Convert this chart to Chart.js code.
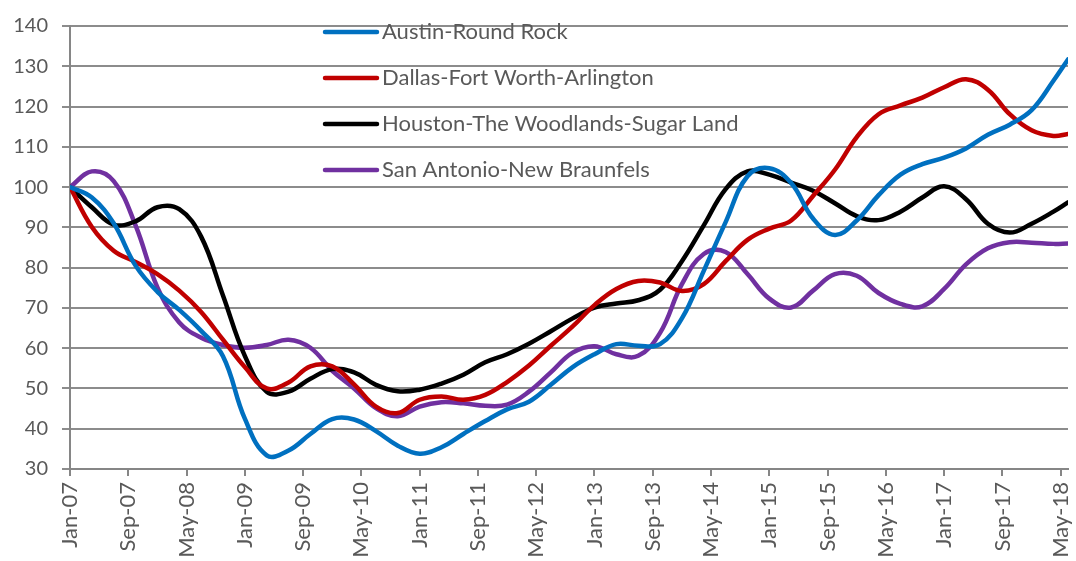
<!DOCTYPE html>
<html>
<head>
<meta charset="utf-8">
<script src="https://cdn.jsdelivr.net/npm/chart.js@4.4.1/dist/chart.umd.min.js"></script>
<style>
  html, body { margin: 0; padding: 0; background: #ffffff; }
  #wrap { width: 1076px; height: 561px; }
</style>
</head>
<body>
<div id="wrap"><canvas id="grafico" width="1076" height="561"></canvas></div>
<script>
// quarterly readings of the index (Jan-07 = 100), last point is Jun-18
var datas = ['Jan-07', 'Apr-07', 'Jul-07', 'Oct-07', 'Jan-08', 'Apr-08', 'Jul-08', 'Oct-08',
    'Jan-09', 'Apr-09', 'Jul-09', 'Oct-09', 'Jan-10', 'Apr-10', 'Jul-10', 'Oct-10',
    'Jan-11', 'Apr-11', 'Jul-11', 'Oct-11', 'Jan-12', 'Apr-12', 'Jul-12', 'Oct-12',
    'Jan-13', 'Apr-13', 'Jul-13', 'Oct-13', 'Jan-14', 'Apr-14', 'Jul-14', 'Oct-14',
    'Jan-15', 'Apr-15', 'Jul-15', 'Oct-15', 'Jan-16', 'Apr-16', 'Jul-16', 'Oct-16',
    'Jan-17', 'Apr-17', 'Jul-17', 'Oct-17', 'Jan-18', 'Apr-18', 'Jun-18'];

var austin = [100, 97.4, 91, 80.5, 74, 69.5, 64.3, 58, 42.5, 33.4, 34.6, 38.7,
    42.4, 42.3, 39.4, 35.8, 33.8, 35.4, 38.7, 41.9, 44.8, 46.7, 50.9, 55.3,
    58.5, 61, 60.6, 61, 67.4, 79.2, 91.3, 102.7, 104.7, 101, 92.2, 88.1,
    91.7, 98, 103.1, 105.7, 107.3, 109.6, 113, 115.5, 119.1, 126.4, 131.7];

var dallas = [100, 90.1, 84.2, 81.4, 78.4, 74.3, 69, 62.1, 55.3, 50, 51.5, 55.5,
    55.5, 51, 45.5, 43.9, 47.2, 48, 47.2, 48.4, 51.6, 55.7, 60.6, 65.4,
    70.7, 74.7, 76.7, 76.3, 74.2, 75.9, 81.6, 86.9, 89.7, 91.7, 97.8, 104.3,
    112.4, 118.1, 120.3, 122.2, 124.8, 126.8, 124.2, 118.1, 114.1, 112.7, 113.2];

var houston = [100, 95, 90.7, 91.5, 95, 94.5, 87.7, 73.1, 58.1, 49.2, 49.2, 52.4,
    54.8, 54, 50.9, 49.3, 49.7, 51.2, 53.4, 56.5, 58.5, 61.1, 64.2, 67.4,
    70.1, 71.1, 71.9, 74.5, 81.6, 90.5, 99.5, 103.9, 103.1, 101.1, 99.1, 96,
    92.8, 91.8, 93.9, 97.4, 100.2, 97, 90.9, 88.7, 90.9, 93.9, 96.2];

var sanAntonio = [100, 103.9, 101.5, 90.5, 75.1, 66.4, 62.6, 60.8, 60.1, 60.8, 62.1, 60.1,
    54.4, 50, 45.1, 43.1, 45.5, 46.6, 46.3, 45.7, 46, 49.2, 54, 58.9,
    60.5, 58.5, 58.1, 63.8, 75.9, 83.4, 83.9, 78.4, 72.3, 70.1, 74.3, 78.4,
    78, 73.7, 71, 70.4, 74.7, 80.8, 84.8, 86.3, 86.2, 85.9, 86];

var series = ['Austin-Round Rock', 'Dallas-Fort Worth-Arlington',
    'Houston-The Woodlands-Sugar Land', 'San Antonio-New Braunfels'];
var cores = ['#0070C0', '#C00000', '#000000', '#7030A0'];

var rotulosX = ['Jan-07', 'Sep-07', 'May-08', 'Jan-09', 'Sep-09', 'May-10', 'Jan-11', 'Sep-11',
    'May-12', 'Jan-13', 'Sep-13', 'May-14', 'Jan-15', 'Sep-15', 'May-16', 'Jan-17',
    'Sep-17', 'May-18'];

var meses = ['Jan', 'Feb', 'Mar', 'Apr', 'May', 'Jun', 'Jul', 'Aug', 'Sep', 'Oct', 'Nov', 'Dec'];

// month index counted from Jan-07
var indiceMes = function (rotulo) {
    var partes = rotulo.split('-');
    return (parseInt(partes[1], 10) - 7) * 12 + meses.indexOf(partes[0]);
};

var fonte = 'Lato, "Open Sans", sans-serif';
var corTexto = '#595959';
var corEixo = '#868686';

var legendaInterna = {
    id: 'legendaInterna',
    afterDraw: function (chart) {
        const ctx = chart.ctx;
        ctx.save();
        chart.data.datasets.forEach(function (ds, i) {
            const y = 32 + i * 46;
            ctx.strokeStyle = ds.borderColor;
            ctx.lineWidth = 4.5;
            ctx.lineCap = 'round';
            ctx.beginPath();
            ctx.moveTo(325, y);
            ctx.lineTo(377, y);
            ctx.stroke();
            ctx.fillStyle = corTexto;
            ctx.font = '22px ' + fonte;
            ctx.textBaseline = 'middle';
            ctx.textAlign = 'left';
            ctx.fillText(ds.label, 382, y);
        });
        ctx.restore();
    }
};

var valores = [austin, dallas, houston, sanAntonio];

const ctx = document.getElementById('grafico').getContext('2d');
const grafico = new Chart(ctx, {
    type: 'line',
    data: {
        datasets: series.map(function (nome, i) {
            return {
                label: nome,
                data: valores[i].map(function (v, j) { return { x: indiceMes(datas[j]), y: v }; }),
                borderColor: cores[i],
                backgroundColor: cores[i],
                borderWidth: 4.5,
                pointRadius: 0,
                fill: false,
                tension: 0.4,
                borderCapStyle: 'round'
            };
        })
    },
    options: {
        responsive: false,
        animation: false,
        layout: { padding: { left: 0, right: 8, top: 17, bottom: 0 } },
        plugins: {
            legend: { display: false },
            tooltip: { enabled: false }
        },
        scales: {
            x: {
                type: 'linear',
                min: 0,
                max: indiceMes('Jun-18'),
                afterBuildTicks: function (s) {
                    s.ticks = rotulosX.map(function (r) { return { value: indiceMes(r) }; });
                },
                afterFit: function (s) {
                    s.height = 92;
                    s.paddingLeft = 0;
                    s.paddingRight = 0;
                },
                border: { display: true, color: corEixo, width: 2 },
                grid: { drawOnChartArea: false, drawTicks: true, tickLength: 7, color: corEixo, lineWidth: 2 },
                ticks: {
                    autoSkip: false,
                    minRotation: 90,
                    maxRotation: 90,
                    padding: 6,
                    color: corTexto,
                    font: { family: fonte, size: 22 },
                    callback: function (v) {
                        const i = rotulosX.map(indiceMes).indexOf(v);
                        return i >= 0 ? rotulosX[i] : '';
                    }
                }
            },
            y: {
                min: 30,
                max: 140,
                afterFit: function (s) { s.width = 70; },
                border: { display: true, color: corEixo, width: 2 },
                grid: {
                    color: '#8c8c8c',
                    lineWidth: 2,
                    borderDash: [8, 5],
                    tickBorderDash: [],
                    tickLength: 8,
                    drawTicks: true
                },
                ticks: {
                    stepSize: 10,
                    padding: 14,
                    color: corTexto,
                    font: { family: fonte, size: 20 }
                }
            }
        }
    },
    plugins: [legendaInterna]
});
</script>
</body>
</html>
